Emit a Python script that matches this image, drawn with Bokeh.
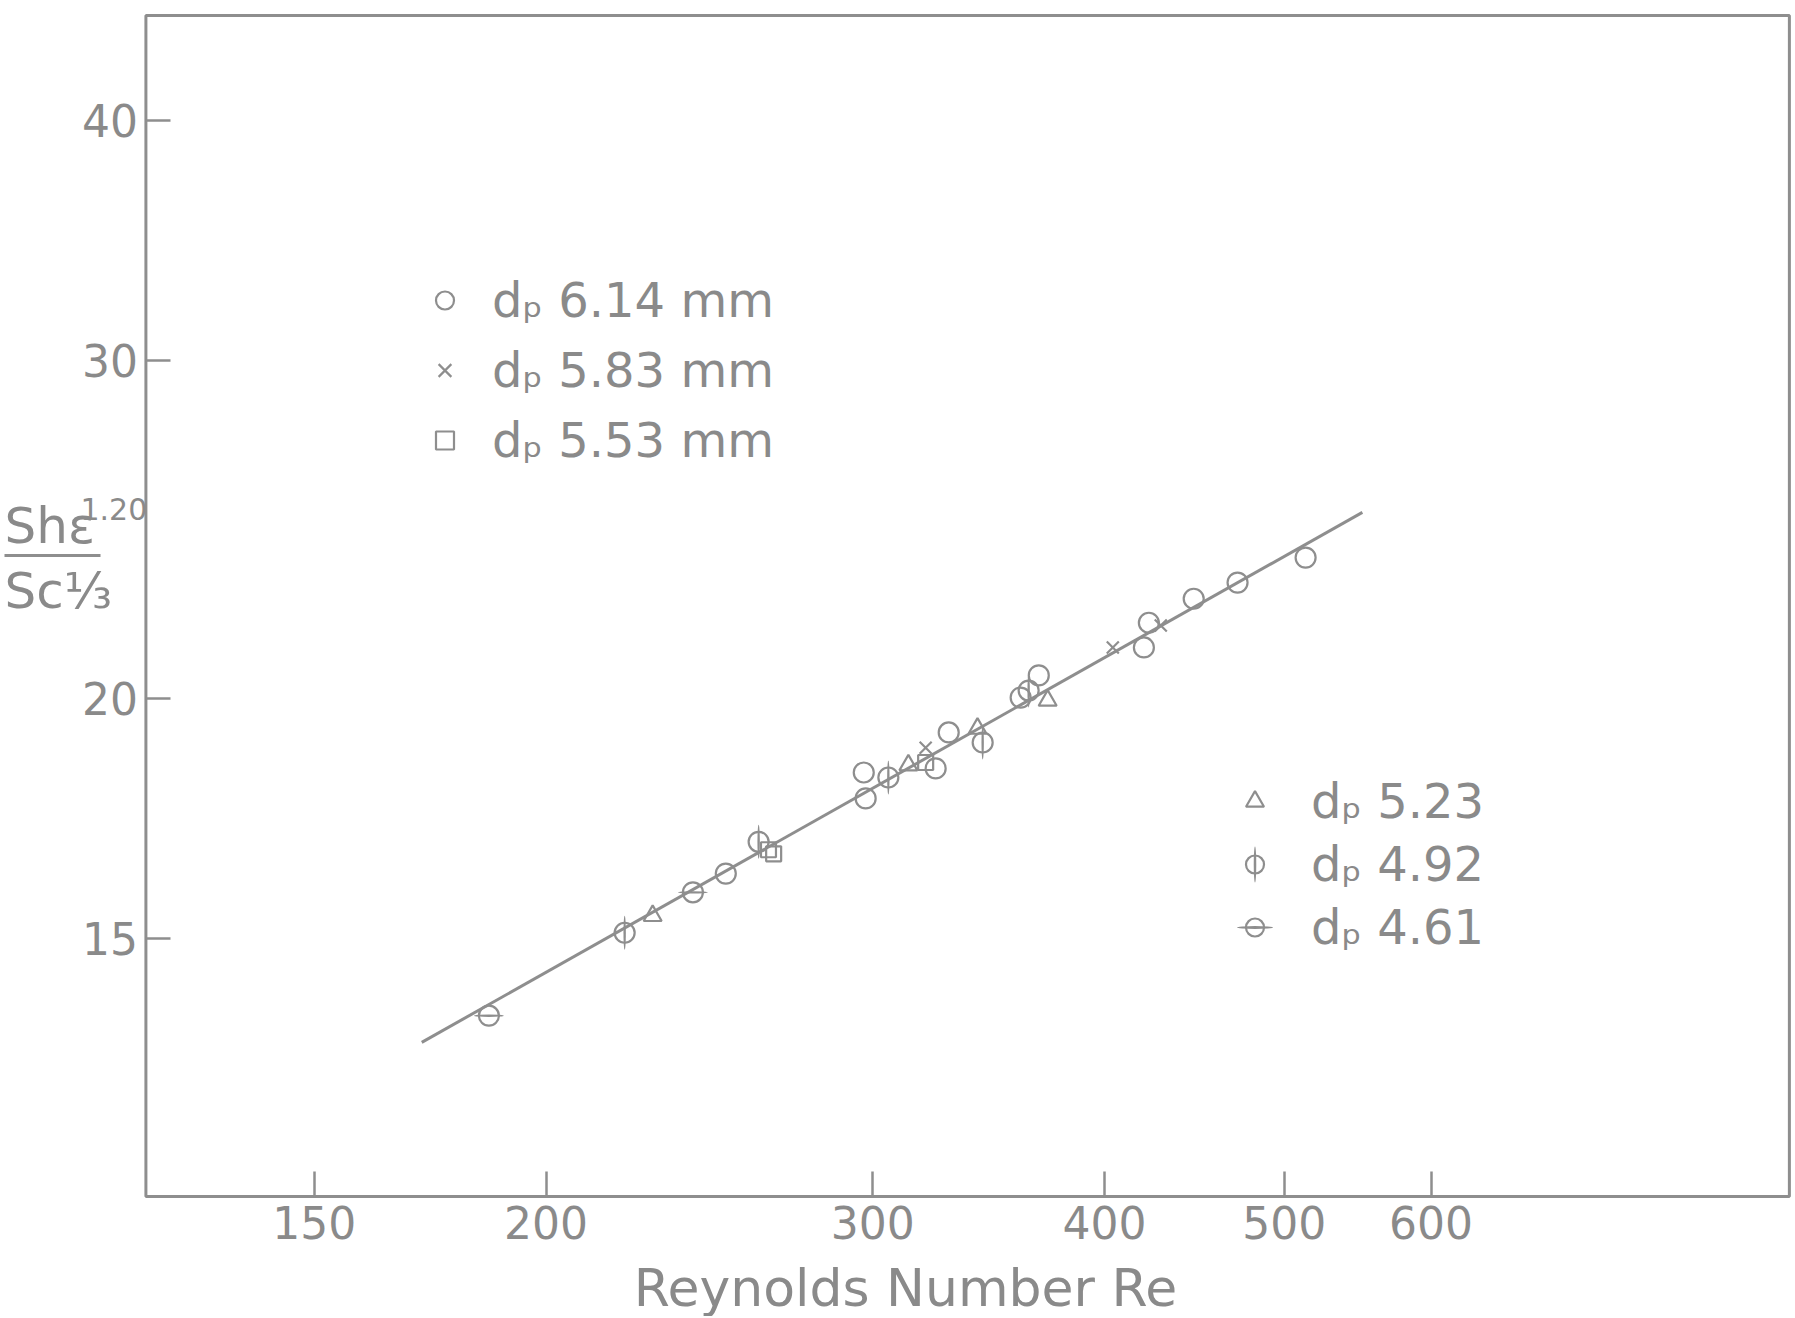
from bokeh.plotting import figure
from bokeh.models import (Range1d, FixedTicker, PrintfTickFormatter, Legend,
                          LegendItem, Label, Arrow, BoxAnnotation)
from bokeh.embed import file_html
from bokeh.resources import INLINE

# ---------------- data ----------------
x_ticks = [150, 200, 300, 400, 500, 600]
y_ticks = [15, 20, 30, 40]

fit_re = [171.4, 551.0]
fit_sh = [13.24, 25.0]

# dp 6.14 mm (open circles)
re_614 = [250.0, 296.7, 297.4, 324.4, 329.7, 360.5, 368.7, 420.1, 422.7, 446.9, 471.9, 513.5]
sh_614 = [16.21, 18.30, 17.74, 18.39, 19.20, 20.02, 20.56, 21.26, 21.90, 22.54, 22.98, 23.68]

# dp 5.83 mm (x)
re_583 = [320.4, 404.2, 429.0]
sh_583 = [18.85, 21.26, 21.83]

# dp 5.53 mm (squares)
re_553 = [263.6, 265.3, 320.4]
sh_553 = [16.68, 16.60, 18.52]

# dp 5.23 (triangles)
re_523 = [228.3, 313.6, 341.7, 372.8]
sh_523 = [15.41, 18.46, 19.29, 19.95]

# dp 4.92 (circle with vertical bar)
re_492 = [220.5, 260.4, 305.9, 343.9, 364.1]
sh_492 = [15.10, 16.84, 18.19, 18.97, 20.19]

# dp 4.61 (circle with horizontal bar)
re_461 = [186.3, 240.0]
sh_461 = [13.67, 15.85]

labels_top = ["d\u209a 6.14 mm", "d\u209a 5.83 mm", "d\u209a 5.53 mm"]
labels_bot = ["d\u209a 5.23", "d\u209a 4.92", "d\u209a 4.61"]

# axis extents of the drawn box (data units)
box_re = (121.7, 936.2)
box_sh = (11.006, 45.37)

# ---------------- styling ----------------
INK = "#8e8e8e"
TXT = "#8a8a8a"
FONT = "DejaVu Sans"
W, H = 1793, 1316

p = figure(width=W, height=H, x_axis_type="log", y_axis_type="log",
           x_range=Range1d(101.6, 941.0), y_range=Range1d(9.53, 46.19),
           output_backend="svg", toolbar_location=None,
           min_border_left=0, min_border_right=0, min_border_top=0,
           min_border_bottom=0)

p.background_fill_color = "white"
p.border_fill_color = "white"
p.outline_line_color = None
p.xgrid.visible = False
p.ygrid.visible = False

# drawn plot box
p.add_layout(BoxAnnotation(left=box_re[0], right=box_re[1], bottom=box_sh[0],
                           top=box_sh[1], fill_alpha=0, line_color=INK,
                           line_alpha=1.0, line_width=3, level="underlay"))

for ax, ticks in ((p.xaxis, x_ticks), (p.yaxis, y_ticks)):
    ax.ticker = FixedTicker(ticks=ticks)
    ax.formatter = PrintfTickFormatter(format="%d")
    ax.axis_line_color = None
    ax.minor_tick_line_color = None
    ax.major_tick_in = 25
    ax.major_tick_out = 0
    ax.major_tick_line_color = INK
    ax.major_tick_line_width = 2.5
    ax.major_label_text_color = TXT
    ax.major_label_text_font = FONT
    ax.major_label_text_font_size = "44px"
p.xaxis.fixed_location = box_sh[0]
p.yaxis.fixed_location = box_re[0]
p.xaxis.major_label_standoff = 10
p.yaxis.major_label_standoff = 8

# fitted line
p.line(fit_re, fit_sh, line_color=INK, line_width=3)

common = dict(line_color=INK, line_width=2.2, fill_color=None)
r614 = p.scatter(re_614, sh_614, marker="circle", size=20, **common)
r583 = p.scatter(re_583, sh_583, marker="x", size=17, line_color=INK, line_width=2.2)
r553 = p.scatter(re_553, sh_553, marker="square", size=15, **common)
r523 = p.scatter(re_523, sh_523, marker="triangle", size=18, **common)
r492c = p.scatter(re_492, sh_492, marker="circle", size=20, **common)
r492d = p.ellipse(re_492, sh_492, width=2.4, height=34, width_units="screen",
                  height_units="screen", fill_color=INK, line_color=None)
r461c = p.scatter(re_461, sh_461, marker="circle", size=20, **common)
r461d = p.ellipse(re_461, sh_461, width=30, height=2.4, width_units="screen",
                  height_units="screen", fill_color=INK, line_color=None)

leg_common = dict(border_line_color=None, background_fill_alpha=0, padding=0,
                  margin=0, label_text_font=FONT, label_text_color=TXT,
                  glyph_width=45, glyph_height=50, label_height=50)

leg1 = Legend(items=[LegendItem(label=labels_top[0], renderers=[r614]),
                     LegendItem(label=labels_top[1], renderers=[r583]),
                     LegendItem(label=labels_top[2], renderers=[r553])],
              location=(422, 848), label_standoff=25, spacing=14,
              label_text_font_size="48px", **leg_common)
leg2 = Legend(items=[LegendItem(label=labels_bot[0], renderers=[r523]),
                     LegendItem(label=labels_bot[1], renderers=[r492c, r492d]),
                     LegendItem(label=labels_bot[2], renderers=[r461c, r461d])],
              location=(1232, 361), label_standoff=34, spacing=7,
              label_text_font_size="48px", **leg_common)
p.add_layout(leg1, "center")
p.add_layout(leg2, "center")

# y-axis title:  Sh eps^1.20 / Sc^(1/3)
lab = dict(x_units="screen", y_units="screen", text_font=FONT,
           text_color=TXT, text_baseline="alphabetic")
p.add_layout(Label(x=4, y=791, text="Sh\u03b5", text_font_size="50px", **lab))
p.add_layout(Label(x=80, y=808, text="1.20", text_font_size="30px", **lab))
p.add_layout(Label(x=4, y=726, text="Sc\u2153", text_font_size="50px", **lab))
p.add_layout(Arrow(end=None, x_start=4, y_start=761, x_end=100, y_end=761,
                   start_units="screen", end_units="screen",
                   line_color=INK, line_width=3))

# x-axis title
p.add_layout(Label(x=905, y=29, text="Reynolds Number Re", text_align="center",
                   text_font_size="52px", **lab))

open("out.html", "w").write(file_html(p, INLINE))
